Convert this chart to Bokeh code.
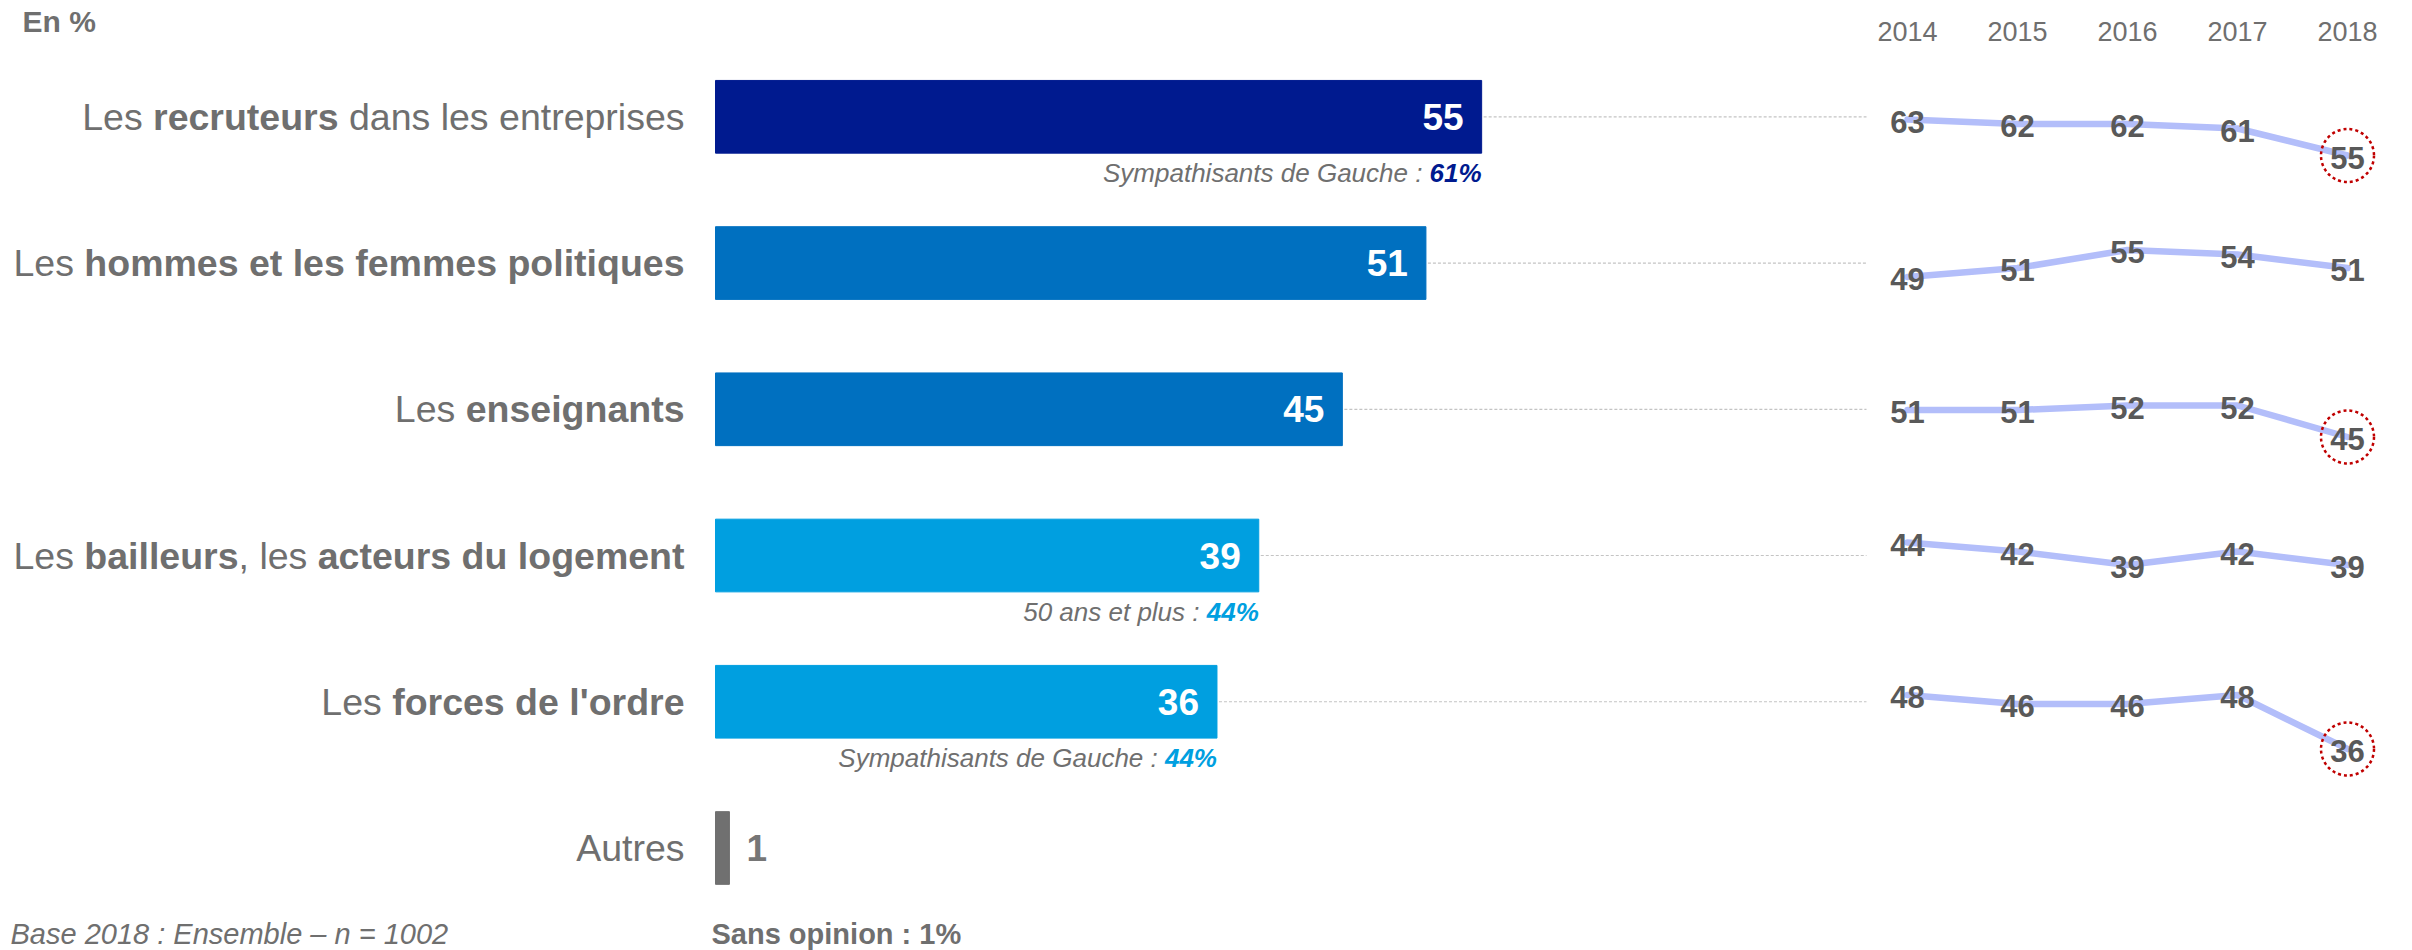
from bokeh.plotting import figure
from bokeh.models import Range1d
from bokeh.embed import file_html
from bokeh.resources import INLINE
from bokeh.core.properties import value

# ---------------- data ----------------
label_parts = [
    [("Les ", False), ("recruteurs", True), (" dans les entreprises", False)],
    [("Les ", False), ("hommes et les femmes politiques", True)],
    [("Les ", False), ("enseignants", True)],
    [("Les ", False), ("bailleurs", True), (", les ", False), ("acteurs du logement", True)],
    [("Les ", False), ("forces de l'ordre", True)],
    [("Autres", False)],
]
scores = [55, 51, 45, 39, 36, 1]
bar_colors = ["#001A8F", "#0070C0", "#0070C0", "#009FE0", "#009FE0", "#707070"]
years = [2014, 2015, 2016, 2017, 2018]
history = [
    [63, 62, 62, 61, 55],
    [49, 51, 55, 54, 51],
    [51, 51, 52, 52, 45],
    [44, 42, 39, 42, 39],
    [48, 46, 46, 48, 36],
]
circled = [True, False, True, False, True]
note_rows = [0, 3, 4]
note_texts = ["Sympathisants de Gauche : ", "50 ans et plus : ", "Sympathisants de Gauche : "]
note_values = ["61%", "44%", "44%"]
note_colors = ["#001A8F", "#009FE0", "#009FE0"]
unit_label = "En %"
base_text = "Base 2018 : Ensemble \u2013 n = 1002"
no_opinion = "Sans opinion : 1%"

# ---------------- layout ----------------
W, H = 2412, 950
PX_U = 13.93      # px per percentage point (bars)
X0 = 715          # px of value 0
ROW_PX = 146.24   # px between rows
ROW0 = 116.3      # px of first row centre
YR_PX = 110.0     # px per year
YR0 = 1907.0      # px of 2014
K = 4.5           # px per point in sparklines
spark_anchor = [402.5, 497.0, 639.0, 740.0, 910.5]  # px where value 0 would sit
LABEL_SIZE = 37.5

FONT = value("Liberation Sans")
GRAY = "#6F6F6F"

REG = dict(zip("abcdefghijklmnopqrstuvwxyz",
               [556, 556, 500, 556, 556, 278, 556, 556, 222, 222, 500, 222, 833,
                556, 556, 556, 556, 333, 500, 278, 556, 500, 722, 500, 500, 500]))
REG.update(dict(zip("ABCDEFGHIJKLMNOPQRSTUVWXYZ",
                    [667, 667, 722, 722, 667, 611, 778, 722, 278, 500, 667, 556, 833,
                     722, 778, 667, 778, 722, 667, 611, 722, 667, 944, 667, 667, 611])))
REG.update({" ": 278, ":": 278, ",": 278, "%": 889, "'": 191, ".": 278})
for d in "0123456789":
    REG[d] = 556
BOLD = dict(zip("abcdefghijklmnopqrstuvwxyz",
                [556, 611, 556, 611, 556, 333, 611, 611, 278, 278, 556, 278, 889,
                 611, 611, 611, 611, 389, 556, 333, 611, 556, 778, 556, 556, 500]))
BOLD.update(dict(zip("ABCDEFGHIJKLMNOPQRSTUVWXYZ",
                     [722, 722, 722, 722, 667, 611, 778, 722, 278, 556, 722, 611, 833,
                      722, 778, 667, 778, 722, 667, 611, 722, 667, 944, 667, 667, 611])))
BOLD.update({" ": 278, ":": 333, ",": 278, "%": 889, "'": 238, ".": 278})
for d in "0123456789":
    BOLD[d] = 556


def text_w(s, bold, size):
    t = BOLD if bold else REG
    return sum(t.get(c, 556) for c in s) / 1000.0 * size


def px_x(fx):
    return (fx - X0) / PX_U


def px_y(fy):
    return (fy - ROW0) / ROW_PX


p = figure(width=W, height=H,
           x_range=Range1d(px_x(0), px_x(W)),
           y_range=Range1d(start=px_y(H), end=px_y(0)),
           output_backend="svg", toolbar_location=None, min_border=0,
           x_axis_location=None, y_axis_location=None)
p.grid.visible = False
p.outline_line_color = None
p.background_fill_color = "white"
p.border_fill_color = "white"

p.extra_x_ranges["yr"] = Range1d(2014 - YR0 / YR_PX, 2014 + (W - YR0) / YR_PX)
for i, a in enumerate(spark_anchor):
    p.extra_y_ranges["r%d" % i] = Range1d(start=(a - H) / K, end=a / K)

rows = list(range(len(scores)))


def rich(x_right, y, parts, size, styles_colors):
    """Draw segments so that the whole run ends at x_right (data units)."""
    total = sum(text_w(s, b, size) for (s, b) in parts) / PX_U
    x = x_right - total
    for (s, b), (style, color) in zip(parts, styles_colors):
        lead = len(s) - len(s.lstrip(" "))
        xs = x + text_w(s[:lead], b, size) / PX_U
        p.text(x=[xs], y=[y], text=[s.strip(" ")], text_align="left", text_baseline="middle",
               text_font=FONT, text_font_size="%gpx" % size, text_font_style=style,
               text_color=color)
        x += text_w(s, b, size) / PX_U


# bars
p.hbar(y=rows, left=0, right=scores, height=72.7 / ROW_PX, color=bar_colors)

# category labels
for r, parts in zip(rows, label_parts):
    rich(px_x(684), r, parts, LABEL_SIZE,
         [("bold" if b else "normal", GRAY) for (_, b) in parts])

# values inside bars
p.text(x=[s - 18 / PX_U for s in scores[:5]], y=rows[:5], text=[str(s) for s in scores[:5]],
       text_align="right", text_baseline="middle", text_font=FONT, text_font_size="37px",
       text_font_style="bold", text_color="white")
p.text(x=[scores[5] + 17 / PX_U], y=[rows[5]], text=[str(scores[5])],
       text_align="left", text_baseline="middle", text_font=FONT, text_font_size="37px",
       text_font_style="bold", text_color="#767676")

# notes under bars
for r, t, v, c in zip(note_rows, note_texts, note_values, note_colors):
    rich(scores[r], r + 56 / ROW_PX, [(t, False), (v, True)], 26,
         [("italic", GRAY), ("bold italic", c)])

# dashed leaders
p.segment(x0=[s + 2 / PX_U for s in scores[:5]], y0=rows[:5],
          x1=[px_x(1866)] * 5, y1=rows[:5],
          line_color="#C4C4C4", line_dash="3 2", line_width=1.2)

# year header
p.text(x=years, y=[px_y(31)] * len(years), text=[str(y) for y in years], x_range_name="yr",
       text_align="center", text_baseline="middle", text_font=FONT, text_font_size="27px",
       text_color=GRAY)

# sparklines
for i, hist in enumerate(history):
    rn = "r%d" % i
    p.line(years, hist, x_range_name="yr", y_range_name=rn, line_color="#B3BEFA",
           line_width=6.5, line_cap="round", line_join="round")
    p.text(x=years, y=hist, text=[str(v) for v in hist], x_range_name="yr", y_range_name=rn,
           text_align="center", text_baseline="middle", y_offset=2, text_font=FONT,
           text_font_size="31px", text_font_style="bold", text_color="#595959")
    if circled[i]:
        p.scatter(x=[years[-1]], y=[hist[-1]], marker="circle", size=53, x_range_name="yr",
                  y_range_name=rn, fill_color=None, line_color="#C00000",
                  line_dash="3 3", line_width=2.5)

# unit and footer
p.text(x=[px_x(22)], y=[px_y(21)], text=[unit_label], text_align="left", text_baseline="middle",
       text_font=FONT, text_font_size="30px", text_font_style="bold", text_color=GRAY)
p.text(x=[px_x(10)], y=[px_y(933)], text=[base_text], text_align="left", text_baseline="middle",
       text_font=FONT, text_font_size="29px", text_font_style="italic", text_color=GRAY)
p.text(x=[px_x(711)], y=[px_y(933)], text=[no_opinion], text_align="left", text_baseline="middle",
       text_font=FONT, text_font_size="29px", text_font_style="bold", text_color=GRAY)

open("out.html", "w").write(file_html(p, INLINE))
